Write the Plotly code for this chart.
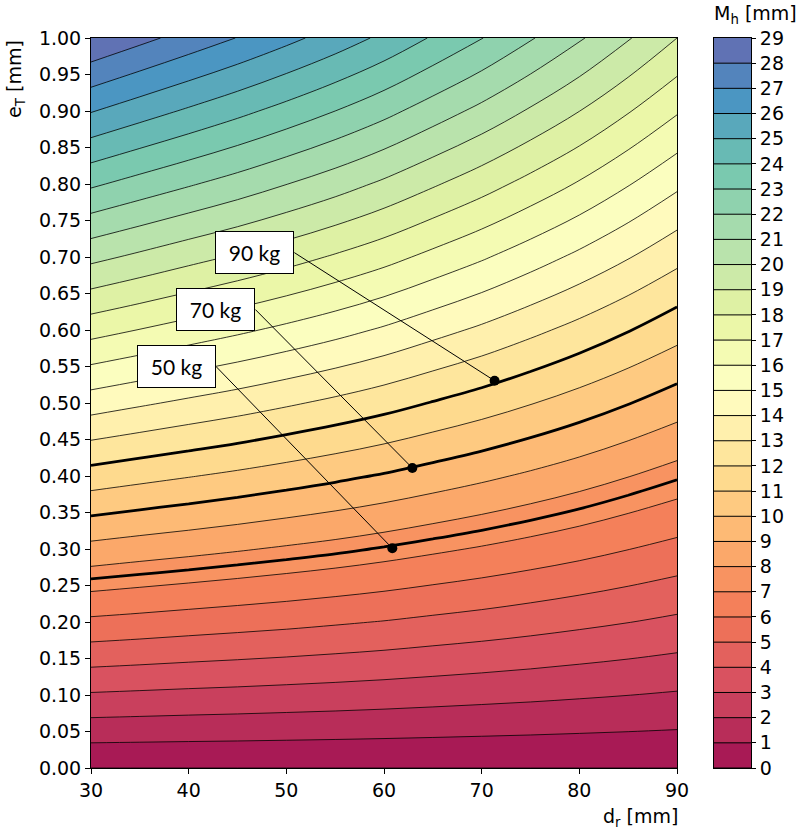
import plotly.graph_objects as go

# ---------------- data ----------------
d_r = [30, 35, 40, 45, 50, 55, 60, 65, 70, 75, 80, 85, 90]          # mm
e_r = [0.0, 0.1, 0.2, 0.3, 0.4, 0.5, 0.6, 0.7, 0.8, 0.9, 1.0]      # mm
# M_h [mm] at each (e_r row, d_r column)
M_h = [
    [0.00, 0.00, 0.00, 0.00, 0.00, 0.00, 0.00, 0.00, 0.00, 0.00, 0.00, 0.00, 0.00],
    [2.90, 2.83, 2.76, 2.70, 2.63, 2.56, 2.48, 2.39, 2.30, 2.21, 2.11, 2.01, 1.90],
    [5.79, 5.66, 5.52, 5.39, 5.26, 5.11, 4.96, 4.78, 4.61, 4.42, 4.22, 4.02, 3.80],
    [8.69, 8.48, 8.29, 8.09, 7.88, 7.67, 7.43, 7.17, 6.91, 6.63, 6.34, 6.02, 5.70],
    [11.58, 11.31, 11.05, 10.79, 10.51, 10.22, 9.91, 9.56, 9.21, 8.84, 8.45, 8.03, 7.60],
    [14.48, 14.14, 13.81, 13.49, 13.14, 12.78, 12.39, 11.95, 11.52, 11.05, 10.56, 10.04, 9.50],
    [17.37, 16.97, 16.57, 16.18, 15.77, 15.34, 14.87, 14.34, 13.82, 13.25, 12.67, 12.05, 11.40],
    [20.27, 19.80, 19.33, 18.88, 18.40, 17.89, 17.35, 16.73, 16.12, 15.46, 14.78, 14.06, 13.30],
    [23.16, 22.62, 22.10, 21.58, 21.02, 20.45, 19.82, 19.12, 18.42, 17.67, 16.90, 16.06, 15.20],
    [26.06, 25.45, 24.86, 24.27, 23.65, 23.00, 22.30, 21.51, 20.73, 19.88, 19.01, 18.07, 17.10],
    [28.95, 28.28, 27.62, 26.97, 26.28, 25.56, 24.78, 23.90, 23.03, 22.09, 21.12, 20.08, 19.00],
]
mass_labels = ["50 kg", "70 kg", "90 kg"]
mass_Mh = [7.5, 10.0, 12.0]          # M_h level of each mass line
point_d = [60.85, 62.90, 71.32]      # marked points
point_e = [0.301, 0.411, 0.5305]
cb_levels = list(range(0, 30))       # colour-bar levels / tick labels
x_ticks = [30, 40, 50, 60, 70, 80, 90]

# ---------------- styles ----------------
SPECTRAL = [(158, 1, 66), (213, 62, 79), (244, 109, 67), (253, 174, 97),
            (254, 224, 139), (255, 255, 191), (230, 245, 152), (171, 221, 164),
            (102, 194, 165), (50, 136, 189), (94, 79, 162)]
ALPHA = 0.9


def spectral(t):
    t = min(max(t, 0.0), 1.0) * 10
    i = min(int(t), 9)
    f = t - i
    a, b = SPECTRAL[i], SPECTRAL[i + 1]
    return tuple(a[j] + (b[j] - a[j]) * f for j in range(3))


def blend(c):
    return "rgb(%d,%d,%d)" % tuple(round(255 - ALPHA * (255 - v)) for v in c)


nbands = len(cb_levels) - 1
band_colors = [blend(spectral(k / (nbands - 1))) for k in range(nbands)]
colorscale = [[0.0, band_colors[0]]] + [[(k + 1) / nbands, band_colors[k]] for k in range(nbands)]
contours = dict(start=cb_levels[0], end=cb_levels[-1], size=1, coloring="fill", showlines=True)

TICKFONT = dict(family="DejaVu Sans", size=19, color="black")
LABELFONT = dict(family="Lato", size=21, color="black")
# label box anchor (right-middle of each box) in data coords
LABEL_POS = [(42.80, 0.550), (46.83, 0.628), (50.82, 0.706)]

fig = go.Figure()

fig.add_trace(go.Contour(
    x=d_r, y=e_r, z=M_h, colorscale=colorscale, autocontour=False,
    contours=contours, line=dict(color="rgba(0,0,0,0.78)", width=1, smoothing=1),
    showscale=False, hoverinfo="skip", xaxis="x", yaxis="y"))

for lvl in mass_Mh:
    fig.add_trace(go.Contour(
        x=d_r, y=e_r, z=M_h, autocontour=False,
        contours=dict(start=lvl, end=lvl, size=1, coloring="none", showlines=True),
        line=dict(color="black", width=2.8, smoothing=1),
        showscale=False, hoverinfo="skip", xaxis="x", yaxis="y"))

fig.add_trace(go.Scatter(
    x=point_d, y=point_e, mode="markers",
    marker=dict(color="black", size=10), hoverinfo="skip", showlegend=False,
    xaxis="x", yaxis="y"))

# colour bar drawn as a contour strip
fig.add_trace(go.Contour(
    x=[0, 1], y=cb_levels, z=[[v, v] for v in cb_levels],
    colorscale=colorscale, autocontour=False, contours=contours,
    line=dict(color="black", width=1, smoothing=0),
    showscale=False, hoverinfo="skip", xaxis="x2", yaxis="y2"))

annotations = []
shapes = []
for lab, (lx, ly), px, py in zip(mass_labels, LABEL_POS, point_d, point_e):
    shapes.append(dict(type="line", xref="x", yref="y", x0=lx, y0=ly, x1=px, y1=py,
                       line=dict(color="black", width=1), layer="above"))
    annotations.append(dict(
        x=lx, y=ly, xref="x", yref="y", text=lab, showarrow=False,
        xanchor="right", yanchor="middle", bgcolor="white", bordercolor="black",
        borderwidth=1, borderpad=0, width=77, height=41, font=LABELFONT))

annotations.append(dict(
    x=1.005, y=-0.068, xref="x domain", yref="paper", text="d<sub>r</sub> [mm]",
    showarrow=False, xanchor="right", yanchor="middle", font=TICKFONT))
annotations.append(dict(
    x=-0.1153, y=1.0, xref="paper", yref="paper", text="e<sub>T</sub> [mm]",
    textangle=-90, showarrow=False, xanchor="center", yanchor="top", font=TICKFONT))
annotations.append(dict(
    x=1.0065, y=1.0324, xref="paper", yref="paper", text="M<sub>h</sub> [mm]",
    showarrow=False, xanchor="center", yanchor="middle", font=TICKFONT))

axis_common = dict(showline=True, mirror=True, linecolor="black", linewidth=1,
                   showgrid=False, zeroline=False, tickfont=TICKFONT,
                   ticks="outside", tickcolor="black", tickwidth=1)

fig.update_layout(
    width=800, height=834,
    margin=dict(l=90.6, r=49.3, t=37.7, b=65.7, pad=0),
    paper_bgcolor="white", plot_bgcolor="white",
    showlegend=False,
    xaxis=dict(domain=[0, 0.8879], range=[30, 90], tickvals=x_ticks, ticklen=5,
               anchor="y", **axis_common),
    yaxis=dict(domain=[0, 1], range=[0, 1], tick0=0, dtick=0.05, tickformat=".2f",
               ticklen=5, anchor="x", **axis_common),
    xaxis2=dict(domain=[0.9433, 1.0], range=[0, 1], anchor="y2",
                showticklabels=False, showline=True, mirror=True, linecolor="black",
                linewidth=1, showgrid=False, zeroline=False, ticks=""),
    yaxis2=dict(domain=[0, 1], range=[0, 29], anchor="x2", side="right",
                tickvals=cb_levels, ticklen=4, **axis_common),
    annotations=annotations,
    shapes=shapes,
)

fig.write_html("out.html")
